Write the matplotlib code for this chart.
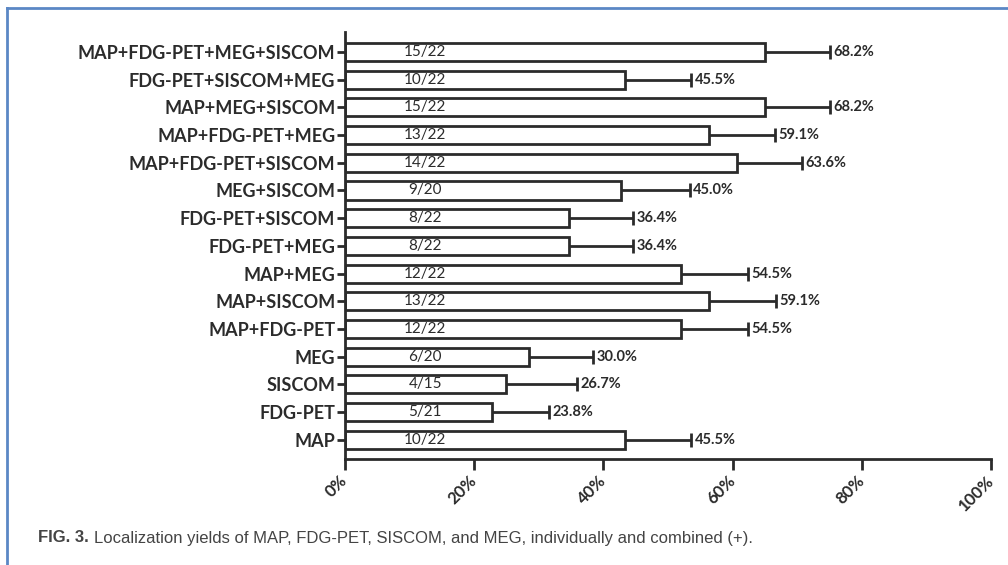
import matplotlib.pyplot as plt
import numpy as np

# categories listed bottom to top
labels = ["MAP", "FDG-PET", "SISCOM", "MEG", "MAP+FDG-PET", "MAP+SISCOM",
          "MAP+MEG", "FDG-PET+MEG", "FDG-PET+SISCOM", "MEG+SISCOM",
          "MAP+FDG-PET+SISCOM", "MAP+FDG-PET+MEG", "MAP+MEG+SISCOM",
          "FDG-PET+SISCOM+MEG", "MAP+FDG-PET+MEG+SISCOM"]
counts = ["10/22", "5/21", "4/15", "6/20", "12/22", "13/22", "12/22", "8/22",
          "8/22", "9/20", "14/22", "13/22", "15/22", "10/22", "15/22"]
pct_text = ["45.5%", "23.8%", "26.7%", "30.0%", "54.5%", "59.1%", "54.5%",
            "36.4%", "36.4%", "45.0%", "63.6%", "59.1%", "68.2%", "45.5%", "68.2%"]
# bar length and whisker end as drawn (percent)
bar_val = [43.3, 22.7, 24.9, 28.5, 52.0, 56.3, 52.0, 34.7, 34.7, 42.7,
           60.7, 56.3, 65.0, 43.3, 65.0]
whisk_val = [53.6, 31.6, 35.9, 38.4, 62.4, 66.7, 62.4, 44.6, 44.6, 53.4,
             70.8, 66.6, 75.1, 53.6, 75.1]
xticks = [0, 20, 40, 60, 80, 100]

W, H = 1008, 565
fig = plt.figure(figsize=(W / 100, H / 100), dpi=100)
ax = fig.add_axes([345 / W, (H - 459) / H, (991 - 345) / W, (459 - 32) / H])

ink = "#2b2b2b"
y = np.arange(len(labels))
ax.barh(y, bar_val, height=0.65, color="white", edgecolor=ink, linewidth=2, zorder=2)
ax.hlines(y, bar_val, whisk_val, color=ink, linewidth=2, zorder=1)
ax.plot(whisk_val, y, linestyle="none", marker="|", markersize=10,
        markeredgewidth=2, color=ink, zorder=3)

for yi, c, w, p in zip(y, counts, whisk_val, pct_text):
    ax.text(12.4, yi, c, ha="center", va="center", fontsize=11,
            family="Lato", color=ink, zorder=4)
    ax.text(w + 0.5, yi, p, ha="left", va="center", fontsize=10.5,
            family="Lato", fontweight="bold", color=ink)

ax.set_xlim(0, 100)
ax.set_ylim(-0.69, len(labels) - 1 + 0.72)
ax.set_yticks(y)
ax.set_yticklabels(labels, family="Lato", fontweight="bold", fontsize=13, color=ink)
ax.set_xticks(xticks)
ax.set_xticklabels([f"{t}%" for t in xticks], rotation=45, ha="right",
                   va="center", rotation_mode="anchor", family="Lato",
                   fontweight="bold", fontsize=12, color=ink)
ax.tick_params(axis="y", length=6, width=2, color=ink, pad=1)
ax.tick_params(axis="x", length=8, width=2, color=ink, pad=6)
for s in ["top", "right"]:
    ax.spines[s].set_visible(False)
for s in ["left", "bottom"]:
    ax.spines[s].set_linewidth(2)
    ax.spines[s].set_color(ink)

# caption: bold figure number followed by plain text
cap_y = 1 - 538 / H
t1 = fig.text(38 / W, cap_y, "FIG. 3.", ha="left", va="center", fontsize=12,
              family="Liberation Sans", fontweight="bold", color="#444444")
fig.canvas.draw()
x_end = t1.get_window_extent().x1 / W
fig.text(x_end + 5 / W, cap_y,
         "Localization yields of MAP, FDG-PET, SISCOM, and MEG, individually and combined (+).",
         ha="left", va="center", fontsize=12, family="Liberation Sans", color="#444444")

# frame lines
fig.add_artist(plt.Line2D([7 / W, 1], [1 - 8 / H, 1 - 8 / H], color="#5b87c5", linewidth=2))
fig.add_artist(plt.Line2D([7 / W, 7 / W], [0, 1 - 8 / H], color="#5b87c5", linewidth=2))

fig.savefig("out.png", dpi=100)
